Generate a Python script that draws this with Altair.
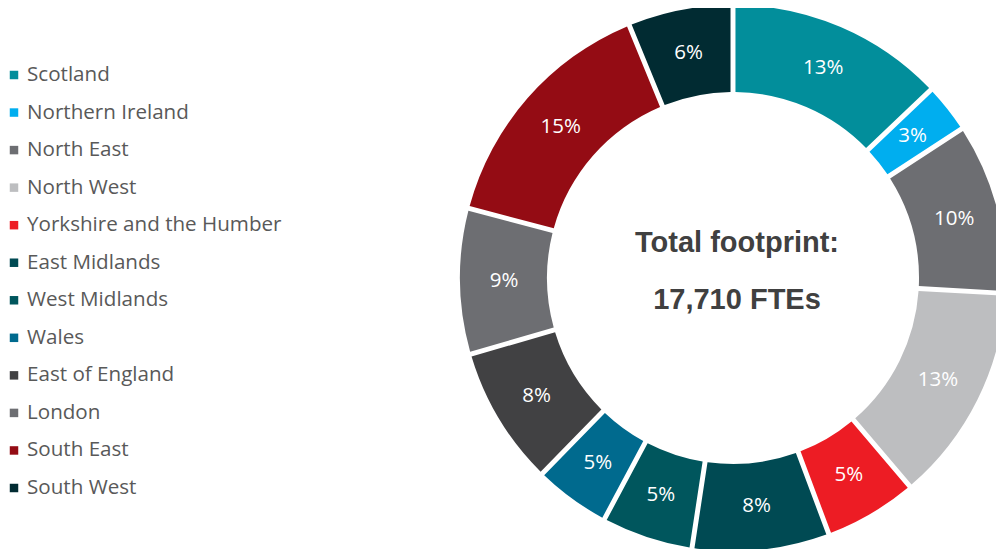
import altair as alt
import pandas as pd

regions = ["Scotland", "Northern Ireland", "North East", "North West",
           "Yorkshire and the Humber", "East Midlands", "West Midlands", "Wales",
           "East of England", "London", "South East", "South West"]
shares = [12.9, 2.9, 10.1, 12.9, 5.5, 8.1, 5.4, 4.5, 8.2, 8.6, 14.7, 6.2]
labels = ["13%", "3%", "10%", "13%", "5%", "8%", "5%", "5%", "8%", "9%", "15%", "6%"]
colors = ["#028E9B", "#00AEEF", "#6D6E72", "#BDBEC0", "#ED1C24", "#004A53",
          "#00565D", "#006A8E", "#414143", "#6D6E72", "#940C14", "#012B32"]
center_lines = ["Total footprint:", "17,710 FTEs"]

df = pd.DataFrame({"region": regions, "share": shares, "label": labels,
                   "idx": list(range(len(regions)))})
cdf = pd.DataFrame({"line": center_lines, "pos": [0, 1]})

CX, CY = 725, 270
color_scale = alt.Scale(domain=regions, range=colors)

base = alt.Chart(df).encode(
    theta=alt.Theta("share:Q", stack=True),
    order=alt.Order("idx:Q"),
)

arcs = base.mark_arc(innerRadius=186, outerRadius=273, padAngle=0.015).encode(
    color=alt.Color("region:N", scale=color_scale, legend=None),
    x=alt.value(CX), y=alt.value(CY),
)

arc_text = base.mark_text(radius=229, fontSize=20.5, font="Open Sans", color="white",
                          align="center", baseline="middle").encode(
    text="label:N", x=alt.value(CX), y=alt.value(CY),
)

center = alt.Chart(cdf).mark_text(font="Liberation Sans", fontWeight="bold",
                                  fontSize=29, color="#404040",
                                  align="center", baseline="middle").encode(
    text="line:N",
    x=alt.value(CX + 4),
    y=alt.Y("pos:O", axis=None,
            scale=alt.Scale(type="point", range=[235, 292], padding=0)),
)

leg_y = alt.Y("region:N", sort=regions, axis=None,
              scale=alt.Scale(type="point", range=[67, 480], padding=0))

leg_sq = alt.Chart(df).mark_square(size=72, opacity=1).encode(
    y=leg_y, x=alt.value(6),
    color=alt.Color("region:N", scale=color_scale, legend=None),
)
leg_txt = alt.Chart(df).mark_text(font="Open Sans", fontSize=20.6, color="#595959",
                                  align="left", baseline="middle").encode(
    y=leg_y, x=alt.value(19), text="region:N",
)

chart = alt.layer(arcs, arc_text, center, leg_sq, leg_txt).resolve_scale(
    y="independent"
).properties(
    width=988, height=541, padding=0, autosize=alt.AutoSizeParams(type="none")
).configure_view(stroke=None)

chart.save("out.html", embed_options={"renderer": "svg", "actions": False})
